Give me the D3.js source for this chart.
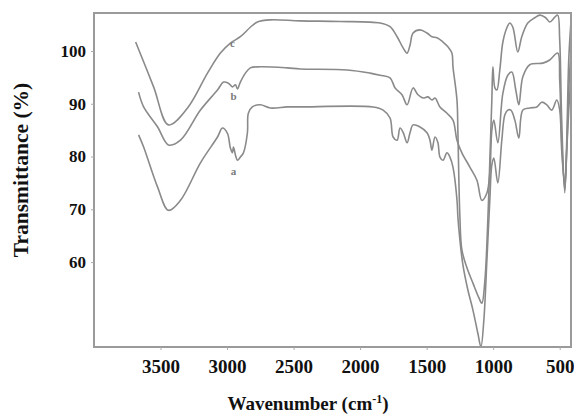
<!DOCTYPE html>
<html>
<head>
<meta charset="utf-8">
<script src="https://cdn.jsdelivr.net/npm/d3@7"></script>
<style>
  body { margin: 0; background: #fff; }
  svg text { font-family: "Liberation Serif", "Times New Roman", serif; font-weight: bold; }
</style>
</head>
<body>
<svg id="chart" width="574" height="414"></svg>
<script>
// spectrum c (top)
var cWave = [3687,3552,3440,3297,3147,3050,2975,2900,2825,2772,2675,2450,2150,1850,1775,1722,1677,1647,1625,1602,1550,1497,1460,1422,1377,1340,1310,1302,1272,1265,1250,1235,1197,1152,1107,1085,1062,1040,1025,1010,1002,987,972,950,927,897,875,852,815,785,740,687,650,605,575,537,515,500,485,462,447,432,417];
var cTrans = [101.7,93.2,86.0,89.2,95.8,99.6,101.5,102.7,104.5,105.5,105.9,105.7,105.6,105.3,104.6,102.7,100.6,99.6,101.1,103.4,104.0,103.4,102.7,102.5,101.7,100.8,99.6,97.0,90.7,84.5,68.5,62.3,58.9,56.0,53.2,52.2,56.6,68.0,79.3,90.7,97.0,93.0,92.6,96.4,101.7,104.4,105.3,104.5,99.8,102.7,105.3,106.3,106.8,106.3,105.5,106.4,106.8,102.1,86.9,73.1,83.1,98.3,104.9];

// spectrum b (middle)
var bWave = [3665,3627,3522,3440,3350,3200,3072,3027,2990,2960,2937,2922,2900,2862,2825,2750,2547,2450,2097,1925,1850,1775,1737,1685,1647,1602,1565,1527,1490,1460,1437,1400,1347,1302,1272,1235,1175,1122,1085,1047,1025,1010,995,965,927,890,860,830,807,777,725,627,575,515,500,485,462,447,432,417];
var bTrans = [92.2,89.4,85.6,82.2,83.1,88.8,92.6,94.1,93.9,93.2,93.6,92.8,94.1,95.8,96.8,97.0,96.8,96.6,96.4,95.8,95.4,94.9,93.0,91.7,89.8,93.0,91.7,91.1,91.3,90.7,91.1,89.4,88.2,86.9,83.1,80.7,78.0,75.5,71.7,73.1,76.9,85.0,86.9,82.6,92.0,95.4,96.0,92.6,89.8,95.1,97.4,97.7,98.3,99.6,94.5,83.1,73.6,81.2,92.6,99.2];

// spectrum a (bottom)
var aWave = [3665,3627,3522,3440,3350,3200,3072,3035,2997,2975,2960,2952,2937,2922,2900,2877,2847,2840,2810,2750,2675,2547,2450,1902,1827,1775,1752,1722,1700,1677,1647,1625,1602,1550,1497,1475,1460,1437,1415,1400,1377,1347,1325,1302,1272,1265,1250,1227,1190,1152,1115,1092,1070,1047,1025,1010,995,965,935,912,890,867,837,807,777,725,672,635,597,560,522,500,485,462,447,432,417];
var aTrans = [84.1,81.8,74.2,69.8,71.7,78.8,83.7,85.4,84.4,81.6,80.7,81.8,80.3,79.3,79.9,80.7,84.5,88.2,89.4,89.8,89.2,89.4,89.4,89.4,88.8,87.3,83.7,83.1,85.4,84.6,82.6,84.5,86.0,85.6,84.5,83.1,81.2,83.7,82.6,79.9,79.3,80.7,79.9,78.0,71.8,68.5,64.2,59.4,54.7,50.9,46.5,43.9,49.0,60.4,71.8,78.4,79.7,75.0,83.1,87.9,88.8,88.8,86.9,83.5,88.8,89.2,89.4,90.3,89.8,88.8,90.7,88.8,81.2,74.6,81.2,88.8,94.5];

var seriesNames = ['a', 'b', 'c'];
var labelWave = [2952, 2952, 2960];
var labelTrans = [76.5, 90.8, 100.8];

var xTicks = [3500, 3000, 2500, 2000, 1500, 1000, 500];
var yTicks = [60, 70, 80, 90, 100];

var plotLeft = 94, plotRight = 571, plotTop = 13, plotBottom = 347;

var svg = d3.select('#chart');

var x = d3.scaleLinear()
  .domain([4000, 415])
  .range([plotLeft, plotRight]);

var y = d3.scaleLinear()
  .domain([43.9, 107.2])
  .range([plotBottom, plotTop]);

svg.append('clipPath')
  .attr('id', 'plotclip')
  .append('rect')
  .attr('x', plotLeft)
  .attr('y', plotTop)
  .attr('width', plotRight - plotLeft)
  .attr('height', plotBottom - plotTop);

var line = d3.line()
  .x(function(d){ return x(d[0]); })
  .y(function(d){ return y(d[1]); })
  .curve(d3.curveCatmullRom.alpha(0.5));

var spectra = [
  d3.zip(aWave, aTrans),
  d3.zip(bWave, bTrans),
  d3.zip(cWave, cTrans)
];

svg.append('g')
  .attr('clip-path', 'url(#plotclip)')
  .selectAll('path')
  .data(spectra)
  .enter()
  .append('path')
  .attr('d', line)
  .attr('fill', 'none')
  .attr('stroke', '#8a8a8a')
  .attr('stroke-width', 1.6)
  .attr('stroke-linejoin', 'round');

// small letters next to each spectrum
svg.append('g')
  .selectAll('text')
  .data(seriesNames)
  .enter()
  .append('text')
  .attr('x', function(d, i){ return x(labelWave[i]); })
  .attr('y', function(d, i){ return y(labelTrans[i]); })
  .attr('text-anchor', 'middle')
  .attr('font-size', 11)
  .attr('fill', '#7a7a7a')
  .text(function(d){ return d; });

// frame
svg.append('rect')
  .attr('x', plotLeft)
  .attr('y', plotTop)
  .attr('width', plotRight - plotLeft)
  .attr('height', plotBottom - plotTop)
  .attr('fill', 'none')
  .attr('stroke', '#9a9a9a')
  .attr('stroke-width', 2);

var xAxis = svg.append('g')
  .attr('transform', 'translate(0,' + plotBottom + ')')
  .call(d3.axisBottom(x).tickValues(xTicks).tickFormat(d3.format('d')).tickSize(3).tickPadding(10));

var yAxis = svg.append('g')
  .attr('transform', 'translate(' + plotLeft + ',0)')
  .call(d3.axisLeft(y).tickValues(yTicks).tickFormat(d3.format('d')).tickSize(3).tickPadding(5));

[xAxis, yAxis].forEach(function(ax){
  ax.select('.domain').remove();
  ax.selectAll('line').attr('stroke', '#aaa');
  ax.selectAll('text').attr('fill', '#111');
});
xAxis.selectAll('text').attr('font-size', 19);
yAxis.selectAll('text').attr('font-size', 17);

var xTitle = svg.append('text')
  .attr('x', 308)
  .attr('y', 410)
  .attr('text-anchor', 'middle')
  .attr('font-size', 19)
  .attr('fill', '#111');
xTitle.append('tspan').text('Wavenumber (cm');
xTitle.append('tspan').attr('font-size', 12).attr('dy', -7).text('-1');
xTitle.append('tspan').attr('dy', 7).text(')');

svg.append('text')
  .attr('transform', 'translate(28,170) rotate(-90)')
  .attr('text-anchor', 'middle')
  .attr('font-size', 21.5)
  .attr('fill', '#111')
  .text('Transmittance (%)');
</script>
</body>
</html>
